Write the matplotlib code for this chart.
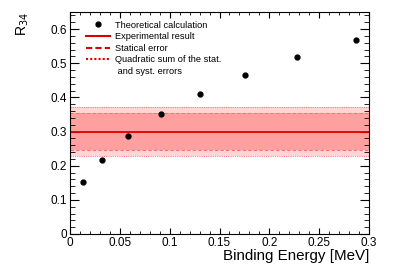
import matplotlib.pyplot as plt
from matplotlib.ticker import MultipleLocator
from matplotlib.lines import Line2D

plt.rcParams['font.family'] = ['Liberation Sans', 'DejaVu Sans']

# Theoretical calculation points
binding_energy = [0.0134, 0.0324, 0.0585, 0.0913, 0.1304, 0.176, 0.228, 0.287]
r34_theory = [0.152, 0.218, 0.287, 0.350, 0.410, 0.466, 0.518, 0.567]

# Experimental result with errors
r34_exp = 0.300
stat_err = 0.053
total_err = 0.072

fig = plt.figure(figsize=(3.96, 2.71), dpi=100)
ax = fig.add_axes([70 / 396, 1 - 234 / 271, 299 / 396, 222 / 271])

x_lim = [0, 0.3]
ax.fill_between(x_lim, r34_exp - total_err, r34_exp + total_err, color='#ffd6d6', lw=0)
ax.fill_between(x_lim, r34_exp - stat_err, r34_exp + stat_err, color='#ffa0a0', lw=0)
ax.plot(x_lim, [r34_exp + total_err] * 2, ls=(0, (1, 1)), color='#ff8080', lw=0.8)
ax.plot(x_lim, [r34_exp - total_err] * 2, ls=(0, (1, 1)), color='#ff8080', lw=0.8)
ax.plot(x_lim, [r34_exp + stat_err] * 2, ls=(0, (3, 2)), color='#ff7070', lw=0.8)
ax.plot(x_lim, [r34_exp - stat_err] * 2, ls=(0, (3, 2)), color='#ff7070', lw=0.8)
ax.plot(x_lim, [r34_exp] * 2, color='#dd0000', lw=1.3)

ax.plot(binding_energy, r34_theory, 'o', color='k', ms=3.5)

ax.set_xlim(0, 0.3)
ax.set_ylim(0, 0.65)
ax.xaxis.set_major_locator(MultipleLocator(0.05))
ax.xaxis.set_minor_locator(MultipleLocator(0.01))
ax.yaxis.set_major_locator(MultipleLocator(0.1))
ax.yaxis.set_minor_locator(MultipleLocator(0.02))
ax.set_xticks([0, 0.05, 0.1, 0.15, 0.2, 0.25, 0.3])
ax.set_xticklabels(['0', '0.05', '0.1', '0.15', '0.2', '0.25', '0.3'])
ax.set_yticks([0, 0.1, 0.2, 0.3, 0.4, 0.5, 0.6])
ax.set_yticklabels(['0', '0.1', '0.2', '0.3', '0.4', '0.5', '0.6'])
ax.tick_params(axis='x', which='major', direction='in', length=4.5, top=True, labelsize=8.5, pad=2)
ax.tick_params(axis='x', which='minor', direction='in', length=2.3, top=True)
ax.tick_params(axis='y', which='major', direction='in', length=6.5, right=True, labelsize=8.5, pad=2)
ax.tick_params(axis='y', which='minor', direction='in', length=3.5, right=True)
for sp in ax.spines.values():
    sp.set_linewidth(0.8)

ax.set_xlabel('Binding Energy [MeV]', fontsize=10.9, loc='right', labelpad=0)
ax.set_ylabel('R$_{34}$', fontsize=10, loc='top', labelpad=14)

handles = [
    Line2D([], [], marker='o', ls='none', color='k', ms=3.5),
    Line2D([], [], color='#dd0000', lw=1.5),
    Line2D([], [], color='#dd0000', lw=1.5, ls=(0, (3, 1.5))),
    Line2D([], [], color='#dd0000', lw=1.5, ls=(0, (1, 1))),
    Line2D([], [], color='none'),
]
labels = ['Theoretical calculation', 'Experimental result', 'Statical error',
          'Quadratic sum of the stat.', ' and syst. errors']
ax.legend(handles, labels, loc='upper left', bbox_to_anchor=(0.031, 0.99), frameon=False,
          fontsize=6.7, handlelength=2.6, handletextpad=0.55, labelspacing=0.27, borderpad=0.2)

fig.savefig('out.png', dpi=100)
